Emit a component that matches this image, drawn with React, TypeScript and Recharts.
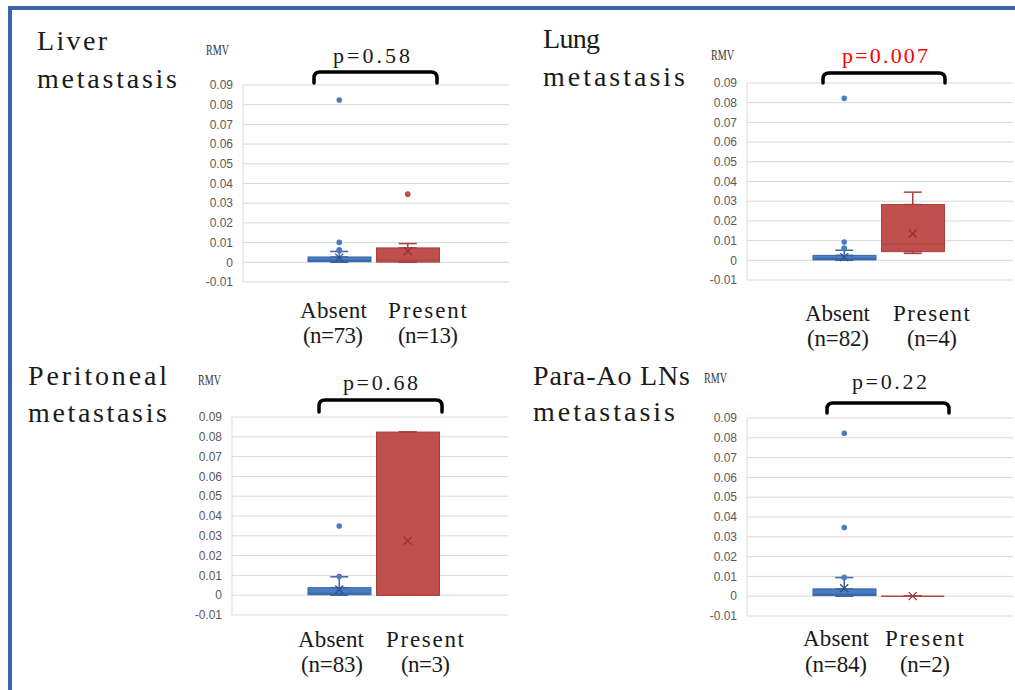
import { ComposedChart, Bar, Scatter, ErrorBar, XAxis, YAxis, CartesianGrid } from 'recharts'

const GROUPS = ['Absent', 'Present']
const Y_TICKS = [-0.01, 0, 0.01, 0.02, 0.03, 0.04, 0.05, 0.06, 0.07, 0.08, 0.09]

// liver
const LIVER_N = [73, 13]
const LIVER_MIN = [0, 0]
const LIVER_Q1 = [0.0003, 0.0001]
const LIVER_MED = [0.0009, 0.0012]
const LIVER_Q3 = [0.0027, 0.0073]
const LIVER_MAX = [0.0055, 0.0095]
const LIVER_MEAN = [0.0024, 0.0056]
const LIVER_OUT_ABSENT = [0.0824, 0.0101, 0.0064, 0.0058]
const LIVER_OUT_PRESENT = [0.0346]

// lung
const LUNG_N = [82, 4]
const LUNG_MIN = [0, 0.0035]
const LUNG_Q1 = [0.0002, 0.0044]
const LUNG_MED = [0.0008, 0.0081]
const LUNG_Q3 = [0.0025, 0.0283]
const LUNG_MAX = [0.0051, 0.0346]
const LUNG_MEAN = [0.0016, 0.0135]
const LUNG_OUT_ABSENT = [0.0822, 0.0093, 0.0062, 0.0057]
const LUNG_OUT_PRESENT: number[] = []

// peritoneal
const PERI_N = [83, 3]
const PERI_MIN = [0, 0]
const PERI_Q1 = [0.0002, 0]
const PERI_MED = [0.0008, 0]
const PERI_Q3 = [0.0038, 0.0824]
const PERI_MAX = [0.0093, 0.0824]
const PERI_MEAN = [0.0029, 0.0275]
const PERI_OUT_ABSENT = [0.0349, 0.0094]
const PERI_OUT_PRESENT: number[] = []

// para-aortic LNs
const PARA_N = [84, 2]
const PARA_MIN = [0, 0]
const PARA_Q1 = [0.0003, 0]
const PARA_MED = [0.0009, 0]
const PARA_Q3 = [0.0037, 0]
const PARA_MAX = [0.0094, 0]
const PARA_MEAN = [0.004, 0]
const PARA_OUT_ABSENT = [0.0823, 0.0347, 0.0095]
const PARA_OUT_PRESENT: number[] = []

const FILL: Record<string, string> = { Absent: '#4a7cc0', Present: '#c0504d' }
const EDGE: Record<string, string> = { Absent: '#3a66a8', Present: '#a8423f' }
const SERIF = '"Liberation Serif", "DejaVu Serif", serif'
const BOX_W = 63

function buildRows(min, q1, med, q3, max, mean) {
  return GROUPS.map((name, i) => ({
    name,
    box: [q1[i], q3[i]],
    q1: q1[i],
    q3: q3[i],
    med: med[i],
    mean: mean[i],
    upErr: [0, max[i] - q3[i]],
    lowErr: [q1[i] - min[i], 0],
  }))
}

function buildOutliers(absent: number[], present: number[]) {
  return [
    ...absent.map((v) => ({ name: 'Absent', v })),
    ...present.map((v) => ({ name: 'Present', v })),
  ]
}

// spaced-out serif text, stretched to the width it has in the original
function Label({ text, at, size, fill = '#1a1a1a' }) {
  return (
    <text x={at[0]} y={at[1]} textLength={at[2]} lengthAdjust="spacing"
      fontFamily={SERIF} fontSize={size} fill={fill}>{text}</text>
  )
}

const Empty = () => <g />

const BoxShape = (p: any) => (
  <rect x={p.x} y={p.y} width={p.width} height={p.height}
    fill={FILL[p.payload.name]} stroke={EDGE[p.payload.name]} strokeWidth={1} />
)

const MedianShape = (p: any) => (
  <line x1={p.cx - BOX_W / 2} x2={p.cx + BOX_W / 2} y1={p.cy} y2={p.cy}
    stroke={p.payload.name === 'Present' ? '#b5473f' : EDGE.Absent} strokeWidth={1.5} />
)

const MeanShape = (p: any) => {
  const s = 4
  const c = p.payload.name === 'Present' ? '#8f3330' : '#2c4f86'
  return (
    <g>
      <line x1={p.cx - s} y1={p.cy - s} x2={p.cx + s} y2={p.cy + s} stroke={c} strokeWidth={1.2} />
      <line x1={p.cx - s} y1={p.cy + s} x2={p.cx + s} y2={p.cy - s} stroke={c} strokeWidth={1.2} />
    </g>
  )
}

const DotShape = (p: any) => <circle cx={p.cx} cy={p.cy} r={2.8} fill={FILL[p.payload.name]} />

function BoxPanel({ rows, outliers, left, top, width, height, padL, padR }) {
  return (
    <div style={{ position: 'absolute', left, top }}>
      <ComposedChart width={width} height={height} data={rows} barSize={BOX_W}
        margin={{ top: 10, right: 2, bottom: 10, left: 0 }}>
        <CartesianGrid vertical={false} stroke="#d9d9d9" />
        <XAxis dataKey="name" type="category" hide allowDuplicatedCategory={false}
          padding={{ left: padL, right: padR }} />
        <YAxis type="number" domain={[-0.01, 0.09]} ticks={Y_TICKS} allowDataOverflow interval={0}
          width={45} tickSize={0} tickMargin={10} tickFormatter={(v) => String(v)}
          axisLine={{ stroke: '#d9d9d9' }} tickLine={false}
          tick={{ fontSize: 12, fill: '#595959', fontFamily: '"Liberation Sans", Arial, sans-serif' }} />
        <Bar dataKey="box" shape={BoxShape} isAnimationActive={false} />
        {rows.map((r) => (
          <Scatter key={'u' + r.name} data={[r]} dataKey="q3" shape={Empty} isAnimationActive={false}>
            <ErrorBar dataKey="upErr" direction="y" width={9} stroke={EDGE[r.name]} strokeWidth={1.5} />
          </Scatter>
        ))}
        {rows.map((r) => (
          <Scatter key={'l' + r.name} data={[r]} dataKey="q1" shape={Empty} isAnimationActive={false}>
            <ErrorBar dataKey="lowErr" direction="y" width={9} stroke={EDGE[r.name]} strokeWidth={1.5} />
          </Scatter>
        ))}
        <Scatter dataKey="med" shape={MedianShape} isAnimationActive={false} />
        <Scatter dataKey="mean" shape={MeanShape} isAnimationActive={false} />
        <Scatter data={outliers} dataKey="v" shape={DotShape} isAnimationActive={false} />
      </ComposedChart>
    </div>
  )
}

const PANELS = [
  {
    key: 'liver', title: ['Liver', 'metastasis'], p: 'p=0.58', pColor: '#1a1a1a', n: LIVER_N,
    rows: buildRows(LIVER_MIN, LIVER_Q1, LIVER_MED, LIVER_Q3, LIVER_MAX, LIVER_MEAN),
    outliers: buildOutliers(LIVER_OUT_ABSENT, LIVER_OUT_PRESENT),
    chart: { left: 198, top: 75, width: 313, height: 217, padL: 62, padR: 67 },
    t: [[37, 50, 70], [37, 88, 140]], pt: [333, 63, 77], br: [314, 437, 72, 83], rmv: [206, 55],
    lab: [[300, 318, 67], [303, 343, 60], [388, 318, 79], [398, 343, 60]],
  },
  {
    key: 'lung', title: ['Lung', 'metastasis'], p: 'p=0.007', pColor: '#ff0000', n: LUNG_N,
    rows: buildRows(LUNG_MIN, LUNG_Q1, LUNG_MED, LUNG_Q3, LUNG_MAX, LUNG_MEAN),
    outliers: buildOutliers(LUNG_OUT_ABSENT, LUNG_OUT_PRESENT),
    chart: { left: 702, top: 73, width: 313, height: 217, padL: 63, padR: 66 },
    t: [[543, 48, 57], [543, 86, 142]], pt: [842, 63, 86], br: [823, 945, 73, 83], rmv: [711, 60],
    lab: [[805, 321, 65], [807, 346, 62], [893, 321, 77], [907, 346, 50]],
  },
  {
    key: 'peri', title: ['Peritoneal', 'metastasis'], p: 'p=0.68', pColor: '#1a1a1a', n: PERI_N,
    rows: buildRows(PERI_MIN, PERI_Q1, PERI_MED, PERI_Q3, PERI_MAX, PERI_MEAN),
    outliers: buildOutliers(PERI_OUT_ABSENT, PERI_OUT_PRESENT),
    chart: { left: 187, top: 407, width: 323, height: 218, padL: 73, padR: 66 },
    t: [[28, 385, 139], [28, 422, 139]], pt: [343, 390, 75], br: [319, 442, 400, 412], rmv: [198, 385],
    lab: [[298, 647, 66], [301, 672, 62], [386, 647, 78], [401, 672, 49]],
  },
  {
    key: 'para', title: ['Para-Ao LNs', 'metastasis'], p: 'p=0.22', pColor: '#1a1a1a', n: PARA_N,
    rows: buildRows(PARA_MIN, PARA_Q1, PARA_MED, PARA_Q3, PARA_MAX, PARA_MEAN),
    outliers: buildOutliers(PARA_OUT_ABSENT, PARA_OUT_PRESENT),
    chart: { left: 702, top: 408, width: 313, height: 218, padL: 63, padR: 66 },
    t: [[533, 385, 157], [533, 421, 142]], pt: [852, 389, 75], br: [827, 949, 403, 413], rmv: [704, 383],
    lab: [[803, 646, 66], [805, 672, 62], [885, 646, 79], [900, 672, 50]],
  },
]

export default function App() {
  return (
    <div style={{ position: 'absolute', left: 0, top: 0, width: 1015, height: 690, background: '#fff', overflow: 'hidden' }}>
      {PANELS.map((pn) => (
        <BoxPanel key={pn.key} rows={pn.rows} outliers={pn.outliers} {...pn.chart} />
      ))}
      <svg width={1015} height={690} style={{ position: 'absolute', left: 0, top: 0, pointerEvents: 'none' }}>
        <path d="M10 690 V8 H1015" fill="none" stroke="#3c65a8" strokeWidth={4} />
        {PANELS.map((pn) => {
          const [x1, x2, yt, yb] = pn.br
          const labels = [GROUPS[0], `(n=${pn.n[0]})`, GROUPS[1], `(n=${pn.n[1]})`]
          return (
            <g key={pn.key}>
              {pn.title.map((s, i) => (
                <Label key={i} text={s} at={pn.t[i]} size={28} />
              ))}
              <Label text={pn.p} at={pn.pt} size={22} fill={pn.pColor} />
              <path d={`M${x1} ${yb} V${yt + 6} Q${x1} ${yt} ${x1 + 6} ${yt} H${x2 - 6} Q${x2} ${yt} ${x2} ${yt + 6} V${yb}`}
                fill="none" stroke="#000" strokeWidth={3.5} strokeLinecap="round" />
              <text x={pn.rmv[0]} y={pn.rmv[1]} fontFamily={SERIF} fontSize={14} fill="#333"
                textLength={23} lengthAdjust="spacingAndGlyphs">RMV</text>
              {labels.map((s, i) => (
                <Label key={i} text={s} at={pn.lab[i]} size={23} />
              ))}
            </g>
          )
        })}
      </svg>
    </div>
  )
}
